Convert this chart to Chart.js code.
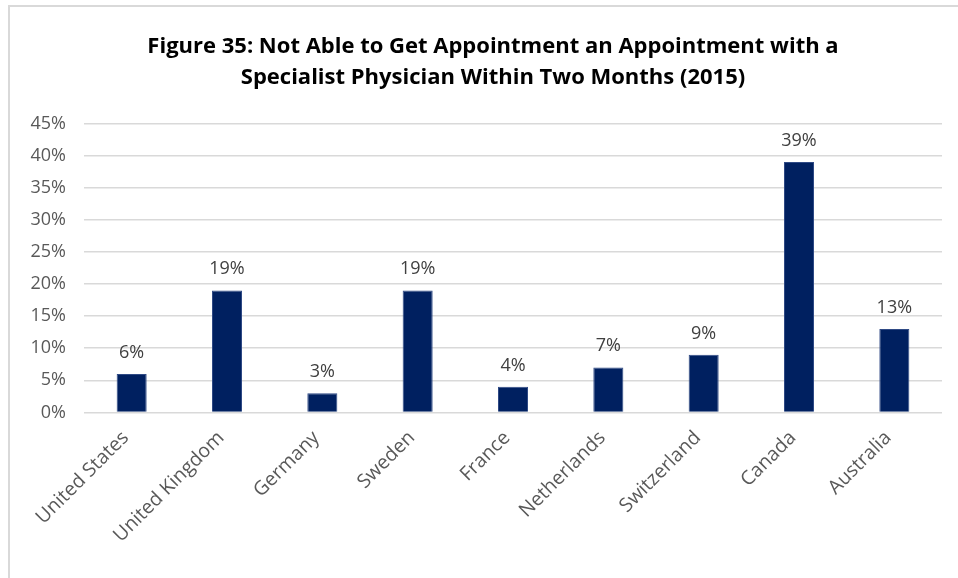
<!DOCTYPE html>
<html>
<head>
<meta charset="utf-8">
<script src="https://cdn.jsdelivr.net/npm/chart.js@4"></script>
<style>
  body { margin: 0; background: #fff; overflow: hidden; }
  #frame {
    position: absolute; left: 8px; top: 5px; width: 951px; height: 573px;
    border-left: 2px solid #d9d9d9; border-top: 2px solid #d9d9d9;
    box-sizing: border-box;
  }
</style>
</head>
<body>
<div id="frame"><canvas id="myChart" width="949" height="571"></canvas></div>
<script>
var countries = ['United States', 'United Kingdom', 'Germany', 'Sweden', 'France',
                 'Netherlands', 'Switzerland', 'Canada', 'Australia'];
var percentNotAble = [6, 19, 3, 19, 4, 7, 9, 39, 13];
var titleLines = ['Figure 35: Not Able to Get Appointment an Appointment with a',
                  'Specialist Physician Within Two Months (2015)'];

// draws the value above each bar
var barLabels = {
    id: 'barLabels',
    afterDatasetsDraw: function (chart) {
        var ctx = chart.ctx;
        var meta = chart.getDatasetMeta(0);
        ctx.save();
        ctx.font = '18px "Open Sans"';
        ctx.fillStyle = '#404040';
        ctx.textAlign = 'center';
        ctx.textBaseline = 'alphabetic';
        meta.data.forEach(function (bar, i) {
            ctx.fillText(percentNotAble[i] + '%', bar.x, bar.y - 16);
        });
        ctx.restore();
    }
};

var ctx = document.getElementById('myChart').getContext('2d');
var chart = new Chart(ctx, {
    type: 'bar',
    data: {
        labels: countries,
        datasets: [{
            label: 'Not able to get appointment',
            data: percentNotAble,
            backgroundColor: '#002060',
            borderColor: '#2f4a85',
            borderWidth: 1,
            barPercentage: 0.63,
            categoryPercentage: 0.5
        }]
    },
    options: {
        responsive: false,
        animation: false,
        layout: { padding: { left: 19, right: 2, top: 0, bottom: 25 } },
        plugins: {
            legend: { display: false },
            tooltip: { enabled: false },
            title: {
                display: true,
                text: titleLines,
                color: '#000',
                font: { family: 'Open Sans', size: 22, weight: 'bold', lineHeight: 1.42 },
                padding: { top: 24, bottom: 30 }
            }
        },
        scales: {
            x: {
                grid: { display: false },
                border: { display: false },
                ticks: {
                    color: '#595959',
                    font: { family: 'Open Sans', size: 19.5 },
                    minRotation: 45,
                    maxRotation: 45,
                    padding: 6,
                    labelOffset: -6
                },
                afterFit: function (scale) {
                    scale.paddingLeft = 0;
                    scale.paddingRight = 17;
                }
            },
            y: {
                min: 0,
                max: 45,
                ticks: {
                    stepSize: 5,
                    color: '#595959',
                    font: { family: 'Open Sans', size: 18 },
                    padding: 18,
                    callback: function (v) { return v + '%'; }
                },
                grid: { color: '#d9d9d9', lineWidth: 1.5, drawTicks: false },
                border: { display: false },
                afterFit: function (scale) {
                    scale.width = 55;
                }
            }
        }
    },
    plugins: [barLabels]
});
</script>
</body>
</html>
